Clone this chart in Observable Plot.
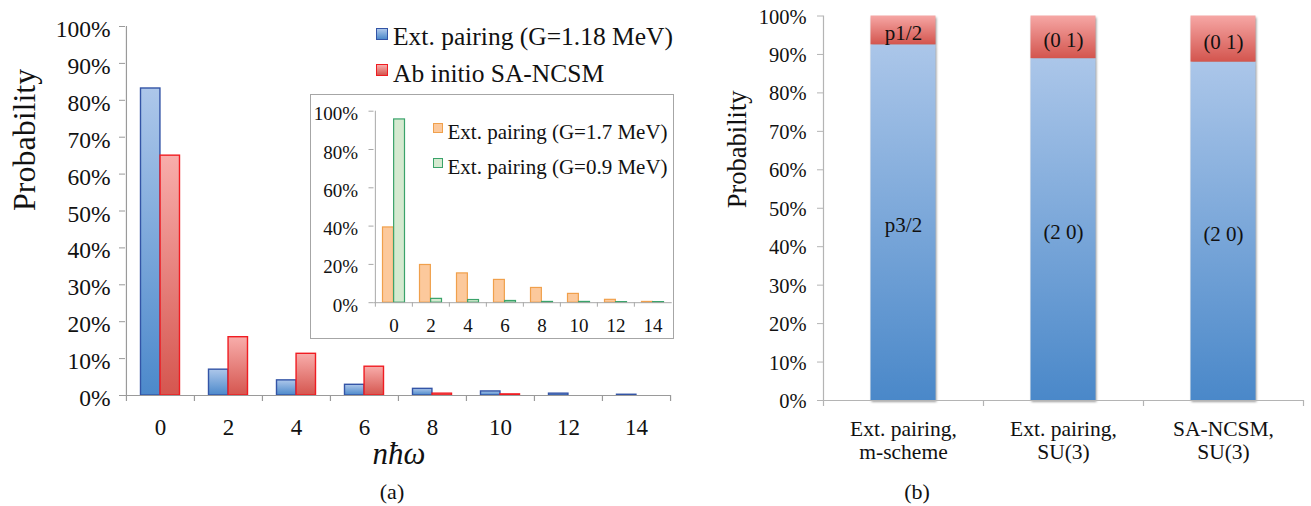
<!DOCTYPE html>
<html><head><meta charset="utf-8">
<script src="https://cdn.jsdelivr.net/npm/d3@7"></script>
<script src="https://cdn.jsdelivr.net/npm/@observablehq/plot@0.6"></script>
<style>
body{margin:0;background:#fff;}
#root{position:relative;width:1311px;height:506px;font-family:"Liberation Serif","Times New Roman",serif;color:#111;overflow:hidden;background:#fff}
.abs{position:absolute;white-space:nowrap;}
.sw{position:absolute;box-sizing:border-box;}
svg{display:block}
</style></head><body><div id="root"></div>
<script>
// ---------- data ----------
const nValues = ["0","2","4","6","8","10","12","14"];
const extPairingG118 = [0.832, 0.070, 0.041, 0.029, 0.018, 0.011, 0.005, 0.002];
const abInitioSANCSM = [0.650, 0.158, 0.113, 0.078, 0.005, 0.003, 0, 0];
const insetG17 = [0.393, 0.197, 0.153, 0.119, 0.077, 0.046, 0.015, 0.004];
const insetG09 = [0.957, 0.020, 0.014, 0.009, 0.004, 0.004, 0.003, 0.003];
const configs = ["Ext. pairing,\nm-scheme", "Ext. pairing,\nSU(3)", "SA-NCSM,\nSU(3)"];
const lowerShare = [0.925, 0.889, 0.880];
const upperShare = [0.075, 0.111, 0.120];
const lowerLabels = ["p3/2", "(2 0)", "(2 0)"];
const upperLabels = ["p1/2", "(0 1)", "(0 1)"];
const ticks10 = [0,0.1,0.2,0.3,0.4,0.5,0.6,0.7,0.8,0.9,1];
const ticks20 = [0,0.2,0.4,0.6,0.8,1];
const legendMain = ["Ext. pairing (G=1.18 MeV)", "Ab initio SA-NCSM"];
const legendInset = ["Ext. pairing (G=1.7 MeV)", "Ext. pairing (G=0.9 MeV)"];

const FONT = '"Liberation Serif","Times New Roman",serif';
const pct = d3.format(".0%");
const root = document.getElementById("root");

function gradients(list) {
  return () => {
    const ns = "http://www.w3.org/2000/svg";
    const defs = document.createElementNS(ns, "defs");
    for (const [id, c0, c1] of list) {
      const g = document.createElementNS(ns, "linearGradient");
      g.setAttribute("id", id);
      g.setAttribute("x1", "0"); g.setAttribute("y1", "0");
      g.setAttribute("x2", "0"); g.setAttribute("y2", "1");
      for (const [o, c] of [[0, c0], [1, c1]]) {
        const s = document.createElementNS(ns, "stop");
        s.setAttribute("offset", o); s.setAttribute("stop-color", c);
        g.appendChild(s);
      }
      defs.appendChild(g);
    }
    return defs;
  };
}

function place(el, left, top) {
  const d = document.createElement("div");
  d.className = "abs"; d.style.left = left + "px"; d.style.top = top + "px";
  d.appendChild(el); root.appendChild(d); return d;
}

function label(txt, x, base, fs, opts = {}) {
  const d = document.createElement("div");
  d.className = "abs"; d.textContent = txt;
  d.style.fontSize = fs + "px"; d.style.lineHeight = fs + "px";
  d.style.top = (base - 0.8375 * fs) + "px";
  d.style.left = x + "px";
  if (opts.middle) d.style.transform = "translateX(-50%)";
  if (opts.italic) d.style.fontStyle = "italic";
  root.appendChild(d); return d;
}

function swatch(x, y, size, bg, border, bw) {
  const d = document.createElement("div");
  d.className = "sw";
  Object.assign(d.style, {left: x + "px", top: y + "px", width: size + "px", height: size + "px",
    background: bg, border: `${bw}px solid ${border}`});
  root.appendChild(d);
}

// ---------- (a) main chart ----------
const W1 = 680, H1 = 440, L1 = 125, R1 = 10;
const bw1 = (W1 - L1 - R1) / nValues.length;
const AX1 = "#9a9a9a";
const main = Plot.plot({
  width: W1, height: H1, marginLeft: L1, marginRight: R1, marginTop: 26, marginBottom: 45,
  style: {fontFamily: FONT, color: "#111", background: "transparent", overflow: "visible"},
  x: {type: "band", domain: nValues, padding: 0, axis: null},
  y: {domain: [0, 1], axis: null},
  marks: [
    gradients([["gB", "#adc7ea", "#4c89cb"], ["gR", "#f8adab", "#d5564f"]]),
    Plot.barY(nValues, {x: nValues, y: extPairingG118, fill: "url(#gB)", stroke: "#3354a6", strokeWidth: 1.4,
      insetLeft: 14.5, insetRight: bw1 / 2}),
    Plot.barY(nValues, {x: nValues, y: abInitioSANCSM, fill: "url(#gR)", stroke: "#f01c22", strokeWidth: 1.4,
      insetLeft: bw1 / 2, insetRight: 14.5}),
    Plot.ruleY([0], {stroke: AX1, strokeWidth: 1.2}),
    Plot.ruleX([nValues[0]], {x: d => d, dx: -bw1 / 2, stroke: AX1, strokeWidth: 1.2}),
    Plot.ruleX(nValues, {x: d => d, y1: 0, y2: 0, insetBottom: -6, dx: -bw1 / 2, stroke: AX1, strokeWidth: 1.2}),
    Plot.ruleX([nValues[nValues.length - 1]], {x: d => d, y1: 0, y2: 0, insetBottom: -6, dx: bw1 / 2, stroke: AX1, strokeWidth: 1.2}),
    Plot.axisY({ticks: ticks10, tickSize: 6, tickFormat: () => "", stroke: AX1, label: null}),
    Plot.axisY({ticks: ticks10, tickSize: 0, tickPadding: 15, dy: 3, fontSize: 23.5, tickFormat: pct, label: null}),
    Plot.axisX({tickSize: 0, tickPadding: 23, fontSize: 23, label: null}),
    Plot.text(["Probability"], {frameAnchor: "left", rotate: -90, dx: -101, fontSize: 32})
  ]
});
place(main, 0, 0);

// legend (a)
swatch(376, 27.5, 12, "linear-gradient(#adc7ea,#4c89cb)", "#3354a6", 1.5);
label(legendMain[0], 393, 45, 25.5);
swatch(376, 63.5, 12, "linear-gradient(#f8adab,#d5564f)", "#f01c22", 1.5);
label(legendMain[1], 393, 82.7, 25.5);
label("nħω", 399, 464, 31, {middle: true, italic: true});
label("(a)", 392, 499, 22, {middle: true});

// ---------- inset ----------
const W2 = 362, H2 = 243, L2 = 62.5, R2 = 1.3;
const bw2 = (W2 - L2 - R2) / nValues.length;
const AX2 = "#a8a8a8";
const inset = Plot.plot({
  width: W2, height: H2, marginLeft: L2, marginRight: R2, marginTop: 15.7, marginBottom: 35.8,
  style: {fontFamily: FONT, color: "#111", background: "#fff", overflow: "visible"},
  x: {type: "band", domain: nValues, padding: 0, axis: null},
  y: {domain: [0, 1], axis: null},
  marks: [
    Plot.barY(nValues, {x: nValues, y: insetG17, fill: "#fcc99c", stroke: "#f0a04c", strokeWidth: 1.2,
      insetLeft: 7.5, insetRight: bw2 / 2}),
    Plot.barY(nValues, {x: nValues, y: insetG09, fill: "#d5ead0", stroke: "#3aa36a", strokeWidth: 1.2,
      insetLeft: bw2 / 2, insetRight: 7.5}),
    Plot.ruleY([0], {stroke: AX2}),
    Plot.ruleX([nValues[0]], {x: d => d, dx: -bw2 / 2, stroke: AX2}),
    Plot.ruleX(nValues, {x: d => d, y1: 0, y2: 0, insetBottom: -4.5, dx: -bw2 / 2, stroke: AX2}),
    Plot.axisY({ticks: ticks20, tickSize: 5, tickFormat: () => "", stroke: AX2, label: null}),
    Plot.axisY({ticks: ticks20, tickSize: 0, tickPadding: 16, dy: 3, fontSize: 19, tickFormat: pct, label: null}),
    Plot.axisX({tickSize: 0, tickPadding: 16, fontSize: 19, label: null})
  ]
});
const insetBox = place(inset, 310, 94);
insetBox.style.border = "1px solid #a6a6a6";
insetBox.style.background = "#fff";

swatch(433.3, 122.5, 10, "#fcc99c", "#f0a04c", 1.3);
label(legendInset[0], 447.5, 139.3, 21);
swatch(433.3, 158.3, 10, "#d5ead0", "#3aa36a", 1.3);
label(legendInset[1], 447.5, 174.3, 21);

// ---------- (b) stacked chart ----------
const W3 = 611, H3 = 470, L3 = 123, R3 = 8;
const bw3 = (W3 - L3 - R3) / configs.length;
const AX3 = "#b4b4b4";
const rows = configs.flatMap((c, i) => [
  {config: c, part: "lower", value: lowerShare[i], label: lowerLabels[i]},
  {config: c, part: "upper", value: upperShare[i], label: upperLabels[i]}
]);
const right = Plot.plot({
  width: W3, height: H3, marginLeft: L3, marginRight: R3, marginTop: 15.5, marginBottom: 70,
  style: {fontFamily: FONT, color: "#111", background: "transparent", overflow: "visible"},
  x: {type: "band", domain: configs, padding: 0, axis: null},
  y: {domain: [0, 1], axis: null},
  color: {type: "identity"},
  marks: [
    gradients([["rB", "#abc6e9", "#4a88c9"], ["rR", "#f6a7a5", "#d3554e"]]),
    Plot.barY(rows, Plot.stackY({x: "config", y: "value",
      fill: d => d.part === "lower" ? "url(#rB)" : "url(#rR)", insetLeft: 47.5, insetRight: 47.5})),
    Plot.ruleY([0], {stroke: AX3, strokeWidth: 1.2}),
    Plot.ruleX([configs[0]], {x: d => d, dx: -bw3 / 2, stroke: AX3, strokeWidth: 1.2}),
    Plot.ruleX(configs, {x: d => d, y1: 0, y2: 0, insetBottom: -6, dx: -bw3 / 2, stroke: AX3, strokeWidth: 1.2}),
    Plot.ruleX([configs[configs.length - 1]], {x: d => d, y1: 0, y2: 0, insetBottom: -6, dx: bw3 / 2, stroke: AX3, strokeWidth: 1.2}),
    Plot.text(rows, Plot.stackY({x: "config", y: "value", text: "label", fontSize: 21, dy: 3, fill: "#111"})),
    Plot.axisY({ticks: ticks10, tickSize: 6, tickFormat: () => "", stroke: AX3, label: null}),
    Plot.axisY({ticks: ticks10, tickSize: 0, tickPadding: 17, dy: 1, fontSize: 20.5, tickFormat: pct, label: null}),
    Plot.text(configs, {x: d => d, text: d => d, frameAnchor: "bottom", lineAnchor: "top", dy: 19.7,
      fontSize: 21.5, lineHeight: 1.06}),
    Plot.text(["Probability"], {frameAnchor: "left", rotate: -90, dx: -85.5, fontSize: 26.5})
  ]
});
right.querySelectorAll('g[aria-label="bar"]').forEach(g => {
  g.style.filter = "drop-shadow(1.5px 2px 1.2px rgba(0,0,0,0.38))";
});
place(right, 700, 0);
label("(b)", 917, 499, 22, {middle: true});
</script>
</body></html>
